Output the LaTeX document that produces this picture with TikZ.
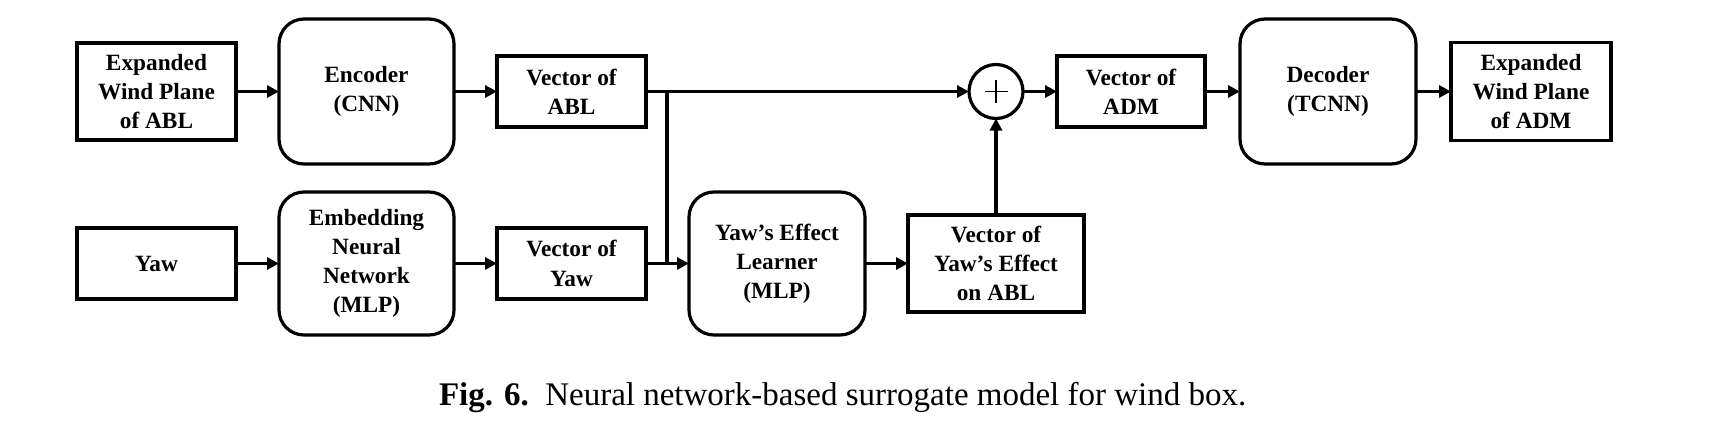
\documentclass[tikz,border=0pt]{standalone}
\usepackage{fontspec}
\setmainfont{Liberation Serif}
\usetikzlibrary{arrows.meta,calc}
\begin{document}
\begin{tikzpicture}[x=1pt,y=-1pt,
  every node/.style={inner sep=0pt,outer sep=0pt},
  sq/.style={draw,line width=3.2pt,rectangle,align=center,
    font=\fontsize{23.3}{29.2}\selectfont\bfseries},
  rnd/.style={sq,rounded corners=25pt},
  conn/.style={line width=3.2pt,-{Triangle[length=12pt,width=12pt]}},
  plain/.style={line width=3.2pt}]
\useasboundingbox (0,0) rectangle (1711,436);
% top row
\node[sq,minimum width=159pt,minimum height=97pt] (expA) at (156.5,91.5) {Expanded\\Wind Plane\\of ABL};
\node[rnd,minimum width=175pt,minimum height=145pt] (enc) at (366.5,91.5) {Encoder\\(CNN)};
\node[sq,minimum width=149pt,minimum height=71pt] (vecA) at (571.5,91.5) {Vector of\\ABL};
\node[draw,circle,line width=3.2pt,minimum size=54pt] (plus) at (996,91.5) {};
\node[sq,minimum width=148pt,minimum height=71pt] (vecD) at (1131,91.5) {Vector of\\ADM};
\node[rnd,minimum width=176pt,minimum height=145pt] (dec) at (1328,91.5) {Decoder\\(TCNN)};
\node[sq,minimum width=160pt,minimum height=98pt] (expD) at (1531,91.5) {Expanded\\Wind Plane\\of ADM};
% bottom row
\node[sq,minimum width=159pt,minimum height=71pt] (yaw) at (156.5,263.5) {Yaw};
\node[rnd,minimum width=175pt,minimum height=143pt] (emb) at (366.5,263.5) {Embedding\\Neural\\Network\\(MLP)};
\node[sq,minimum width=149pt,minimum height=71pt] (vecY) at (571.5,263.5) {Vector of\\Yaw};
\node[rnd,minimum width=176pt,minimum height=143pt] (yel) at (777,263.5) {Yaw’s Effect\\Learner\\(MLP)};
\node[sq,minimum width=176pt,minimum height=97pt] (vye) at (996,263.5) {Vector of\\Yaw’s Effect\\on ABL};
% plus sign
\draw[line width=1.8pt] ($(plus.center)+(-11.5,0)$) -- ($(plus.center)+(11.5,0)$);
\draw[line width=1.8pt] ($(plus.center)+(0,-11.5)$) -- ($(plus.center)+(0,11.5)$);
% junction
\coordinate (j1) at (667,91.5);
\coordinate (j2) at (667,263.5);
% connectors
\draw[conn] (expA) -- (enc);
\draw[conn] (enc) -- (vecA);
\draw[conn] (vecA) -- (plus);
\draw[conn] (plus) -- (vecD);
\draw[conn] (vecD) -- (dec);
\draw[conn] (dec) -- (expD);
\draw[conn] (yaw) -- (emb);
\draw[conn] (emb) -- (vecY);
\draw[conn] (vecY) -- (yel);
\draw[conn] (yel) -- (vye);
\draw[conn] (vye) -- (plus);
\draw[plain] (j1) -- (j2);
% caption
\node[anchor=base west,font=\fontsize{33}{40}\selectfont] (cap) at (439,405) {\textbf{Fig. 6.}\ \ Neural\ network-based\ surrogate\ model\ for\ wind\ box.};
\end{tikzpicture}
\end{document}
